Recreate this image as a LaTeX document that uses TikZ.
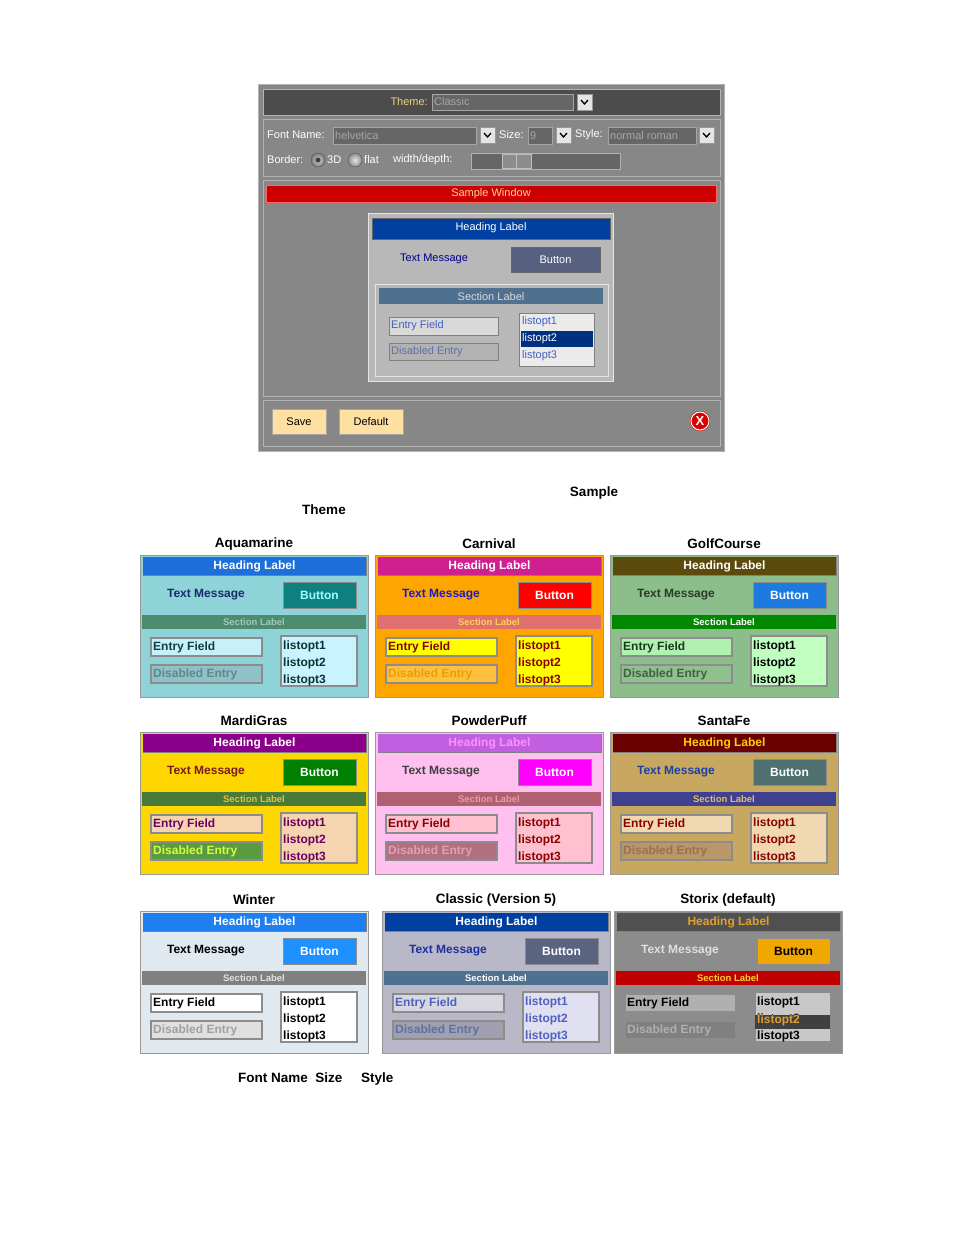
\documentclass[tikz,border=0pt]{standalone}
\usepackage{fontspec}
\setmainfont{Liberation Sans}
\begin{document}
\begin{tikzpicture}[x=1pt,y=-1pt,
  tw/.style={font=\fontsize{11}{12}\selectfont,inner sep=0pt},
  pt/.style={font=\fontsize{12}{13}\selectfont\bfseries,inner sep=0pt},
  captxt/.style={font=\fontsize{13.5}{15}\selectfont\bfseries,inner sep=0pt}]
\useasboundingbox (0,0) rectangle (954,1235);
\newcommand\C[2]{\definecolor{#1}{HTML}{#2}}
\C{themetx}{F0D282}\C{swtx}{FFD28C}\C{smsgc}{000090}\C{sbtnc}{586080}\C{ssecc}{507090}
\C{sentc}{4060C0}\C{sdisc}{6070A0}\C{shil}{003080}\C{savec}{FFE0A0}\C{sxhl}{E0A030}\C{shdc}{0040A0}
% panel macro: #1 name, #2 x, #3 y, #4 title
\newcommand\panel[4]{%
 \begin{scope}[shift={(#2,#3)}]
 \fill[pbg] (0,0) rectangle (228,142);
 \draw[black!40] (0,0) rectangle (228,142);
 \fill[phd] (3,2) rectangle (226,20);
 \draw[black!50,line width=0.8pt] (3,20)--(226,20)--(226,2);
 \node[pt,text=phdtx] (#1h) at (114.5,11) {Heading Label};
 \node[pt,text=pmsg] (#1m) at (66,40) {Text Message};
 \fill[pbtn] (143,27) rectangle (216,53);
 \draw[black!45,line width=1pt] (143,27) rectangle (216,53);
 \node[pt,text=pbtntx] (#1b) at (179.5,40) {Button};
 \fill[psec] (2,60) rectangle (226,74);
 \node[font=\fontsize{9.5}{10}\selectfont\bfseries,inner sep=0pt,text=psectx] (#1s) at (114,67) {Section Label};
 \fill[pent] (11,83) rectangle (122,101);
 \draw[black!45,line width=1.2pt] (11,83) rectangle (122,101);
 \node[pt,text=penttx,anchor=west] (#1e) at (13,92) {Entry Field};
 \fill[pdis] (11,110) rectangle (122,128);
 \draw[black!45,line width=1.2pt] (11,110) rectangle (122,128);
 \node[pt,text=pdistx,anchor=west] (#1d) at (13,119) {Disabled Entry};
 \fill[plst] (141,81) rectangle (217,131);
 \draw[black!45,line width=1.2pt] (141,81) rectangle (217,131);
 \node[pt,text=plsttx,anchor=west] (#1l1) at (143,91) {listopt1};
 \node[pt,text=plsttx,anchor=west] (#1l2) at (143,108) {listopt2};
 \node[pt,text=plsttx,anchor=west] (#1l3) at (143,125) {listopt3};
 \node[captxt] (#1t) at (114,-11) {#4};
 \end{scope}}
\newcommand\cols[9]{\C{pbg}{#1}\C{phd}{#2}\C{phdtx}{#3}\C{pmsg}{#4}\C{pbtn}{#5}\C{pbtntx}{#6}\C{psec}{#7}\C{psectx}{#8}\C{pent}{#9}}
\newcommand\colsb[5]{\C{penttx}{#1}\C{pdis}{#2}\C{pdistx}{#3}\C{plst}{#4}\C{plsttx}{#5}}

% ---------- top window ----------
\fill[black!47] (258,84) rectangle (724,451);
\draw[black!30] (258,84) rectangle (724,451);
\fill[black!70] (263,89) rectangle (720,115);
\draw[black!30] (263,89) rectangle (720,115);
\node[tw,text=themetx,anchor=east] (thl) at (428,102) {Theme:};
\fill[black!60] (432,94) rectangle (573,110); \draw[black!35] (432,94) rectangle (573,110);
\node[tw,text=black!35,anchor=west] (thv) at (434,102) {Classic};
\newcommand\dd[2]{\fill[black!10] (#1,#2) rectangle ++(15,16); \draw[black!40] (#1,#2) rectangle ++(15,16);
 \draw[line width=1.3pt] (#1+4,#2+6)--(#1+7.5,#2+10)--(#1+11,#2+6);}
\dd{577}{94}
\draw[black!30] (263,119) rectangle (720,176);
\node[tw,text=white,anchor=west] (fnl) at (267,135) {Font Name:};
\fill[black!60] (333,127) rectangle (476,144); \draw[black!35] (333,127) rectangle (476,144);
\node[tw,text=black!35,anchor=west] (fnv) at (335,135.5) {helvetica};
\dd{480}{127}
\node[tw,text=white,anchor=west] (szl) at (499,135) {Size:};
\fill[black!60] (528,127) rectangle (552,144); \draw[black!35] (528,127) rectangle (552,144);
\node[tw,text=black!35,anchor=west] (szv) at (530,135.5) {9};
\dd{556}{127}
\node[tw,text=white,anchor=west] (stl) at (575,135) {Style:};
\fill[black!60] (608,127) rectangle (696,144); \draw[black!35] (608,127) rectangle (696,144);
\node[tw,text=black!35,anchor=west] (stv) at (610,135.5) {normal roman};
\dd{699}{127}
\node[tw,text=white,anchor=west] (bdl) at (267,160) {Border:};
\shade[inner color=black!20,outer color=black!50] (318,160) circle (7); \draw[black!70] (318,160) circle (7);
\fill[black!75] (318,160) circle (2.5);
\node[tw,text=white,anchor=west] (b3d) at (327,160) {3D};
\shade[inner color=black!10,outer color=black!45] (355,160) circle (7); \draw[black!70] (355,160) circle (7);
\node[tw,text=white,anchor=west] (bfl) at (364,160) {flat};
\node[tw,text=white,anchor=west] (wdl) at (393,160) {width/depth:};
\fill[black!60] (471,153) rectangle (620,169); \draw[black!30] (471,153) rectangle (620,169);
\fill[black!45] (502,154) rectangle (531,168); \draw[black!25] (502,154) rectangle (531,168) (516,154)--(516,168);
\draw[black!30] (263,180) rectangle (720,396);
\fill[red!80!black] (266,185) rectangle (716,202); \draw[red!60] (266,185) rectangle (716,202);
\node[tw,text=swtx] (sw) at (491,193.5) {Sample Window};
\fill[black!28] (368,213) rectangle (613,381); \draw[black!10] (368,213) rectangle (613,381);
\fill[shdc] (372,218) rectangle (610,239); \draw[black!60] (372,218) rectangle (610,239);
\node[tw,text=white] (shd) at (491,228) {Heading Label};
\node[tw,text=smsgc] (smsg) at (434,259) {Text Message};
\fill[sbtnc] (511,247) rectangle (600,272); \draw[black!60,line width=0.8pt] (511,247) rectangle (600,272);
\node[tw,text=white] (sbtn) at (555.5,259.5) {Button};
\draw[black!10] (375,284) rectangle (608,376);
\fill[ssecc] (379,288) rectangle (603,304);
\node[tw,text=black!15] (ssec) at (491,296.5) {Section Label};
\fill[black!15] (389,317) rectangle (498,335); \draw[black!50] (389,317) rectangle (498,335);
\node[tw,text=sentc,anchor=west] (sent) at (391,326) {Entry Field};
\fill[black!30] (389,343) rectangle (498,360); \draw[black!50] (389,343) rectangle (498,360);
\node[tw,text=sdisc,anchor=west] (sdis) at (391,352) {Disabled Entry};
\fill[black!8] (519,313) rectangle (594,366); \draw[black!50] (519,313) rectangle (594,366);
\fill[shil] (521,331) rectangle (593,347);
\node[tw,text=sentc,anchor=west] (sl1) at (522,322) {listopt1};
\node[tw,text=white,anchor=west] (sl2) at (522,339) {listopt2};
\node[tw,text=sentc,anchor=west] (sl3) at (522,356) {listopt3};
\draw[black!30] (263,400) rectangle (720,446);
\fill[savec] (272,409) rectangle (326,434); \draw[black!35] (272,409) rectangle (326,434);
\node[tw] (save) at (299,421.5) {Save};
\fill[savec] (339,409) rectangle (403,434); \draw[black!35] (339,409) rectangle (403,434);
\node[tw] (dflt) at (371,421.5) {Default};
\fill[red!85!black] (700,421) circle (10); \draw[white,line width=1pt] (700,421) circle (9);
\node[font=\fontsize{13}{13}\selectfont\bfseries,text=white,inner sep=0pt] (xx) at (700,421) {X};

\node[captxt] (samp) at (594,493) {Sample};
\node[captxt] (thm) at (324,510) {Theme};
\node[captxt,anchor=west] (fns) at (238,1079) {Font Name\ \ Size\ \ \ \ \ Style};

% ---------- panels ----------
\cols{8ED3D8}{1E6FD9}{FFFFFF}{1A2A6A}{0E8080}{A0FFFF}{4E8C70}{A0C8B8}{C8F0FA}
\colsb{0E4040}{90C0C8}{5A8A8A}{C8F4FF}{0E3030}
\panel{aq}{140}{555}{Aquamarine}
\cols{FFA500}{D02090}{FFFFFF}{1A1ACC}{FF0000}{FFFFFF}{E07070}{FFD050}{FFFF00}
\colsb{8B0000}{FFC040}{E8A000}{FFFF00}{8B0000}
\panel{ca}{375}{555}{Carnival}
\cols{8CBE8C}{5C4A0C}{FFFFFF}{2A3A2A}{1C7AE0}{FFFFFF}{008800}{FFFFFF}{B0F0B0}
\colsb{1A3A1A}{90C090}{406040}{C0FFC0}{000000}
\panel{gc}{610}{555}{GolfCourse}
\cols{FFD700}{8B008B}{FFFFFF}{7A1A1A}{008000}{FFFFFF}{4A7A3A}{E0C040}{F5D5B0}
\colsb{6A0060}{5A9A40}{D0FF40}{F5D5B0}{6A0060}
\panel{mg}{140}{732}{MardiGras}
\cols{FFC0F0}{C060E0}{FF90FF}{404040}{FF00FF}{FFFFFF}{B06070}{E0A0A0}{FFC0D0}
\colsb{8B0000}{B07080}{E0A0B0}{FFC0D0}{8B0000}
\panel{pp}{375}{732}{PowderPuff}
\cols{C8A860}{6B0000}{FFD000}{2040A0}{507070}{FFFFFF}{404090}{E0C060}{F0D8B0}
\colsb{8B0000}{B89868}{9A7050}{F0D8B0}{8B0000}
\panel{sf}{610}{732}{SantaFe}
\cols{E0E8F0}{1E80F0}{FFFFFF}{000000}{1E90FF}{FFFFFF}{808080}{E0E0E0}{FFFFFF}
\colsb{000000}{E0E0E0}{A0A0A0}{FFFFFF}{000000}
\panel{wi}{140}{911}{Winter}
\cols{B8B8C8}{0040A0}{FFFFFF}{2030A0}{5A6480}{FFFFFF}{507090}{FFFFFF}{D8D8E0}
\colsb{5060C0}{A0A0B0}{6070A0}{E0E0F0}{5060C0}
\panel{cl}{382}{911}{Classic (Version 5)}
\cols{8C8C8C}{505050}{E0A030}{E0E0E0}{F0A800}{000000}{C00000}{FFD030}{B0B0B0}
\colsb{000000}{808080}{B0B0B0}{C8C8C8}{000000}
\panel{sx}{614}{911}{Storix (default)}
\fill[black!75] (755,1015) rectangle (830,1029);
\node[pt,text=sxhl,anchor=west] (sxh) at (757,1020) {listopt2};
\end{tikzpicture}
\end{document}
